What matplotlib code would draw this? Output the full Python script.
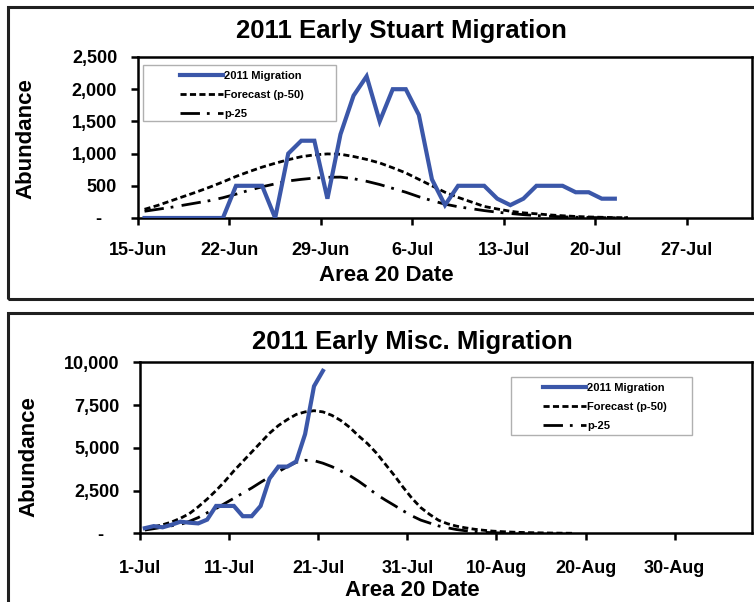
import pandas as pd
import matplotlib
matplotlib.use('Agg')
import matplotlib.pyplot as plt
import matplotlib.dates as mdates
from matplotlib.ticker import FuncFormatter
from matplotlib.patches import Rectangle

# ---- Early Stuart (daily, from 15-Jun) ----
stuart_migration = [0, 0, 0, 0, 0, 0, 0, 500, 500, 500, 0, 1000, 1200, 1200, 300,
                    1300, 1900, 2200, 1500, 2000, 2000, 1600, 600, 200, 500, 500, 500,
                    300, 200, 300, 500, 500, 500, 400, 400, 300, 300]
stuart_p50 = [135, 195, 265, 335, 405, 480, 560, 645, 720, 790, 850, 905, 952, 980,
              995, 990, 955, 910, 855, 780, 700, 600, 500, 400, 320, 250, 180, 140,
              105, 80, 65, 48, 35, 24, 16, 11, 7, 4]
stuart_p25 = [105, 135, 165, 200, 235, 270, 315, 370, 430, 485, 530, 575, 600, 620,
              632, 635, 610, 570, 520, 460, 400, 330, 270, 215, 175, 145, 115, 90,
              70, 52, 38, 27, 18, 12, 8, 5, 3, 2]
stuart_ticks = ['2011-06-15', '2011-06-22', '2011-06-29', '2011-07-06',
                '2011-07-13', '2011-07-20', '2011-07-27']

# ---- Early Misc (daily, from 1-Jul) ----
misc_migration = [300, 420, 350, 500, 680, 620, 580, 800, 1600, 1600, 1600, 1000,
                  1000, 1600, 3200, 3900, 3900, 4200, 5800, 8600, 9500]
misc_p50 = [280, 380, 500, 660, 880, 1150, 1550, 2000, 2500, 3050, 3650, 4200, 4750,
            5300, 5850, 6300, 6650, 6950, 7100, 7170, 7100, 6900, 6600, 6200, 5700,
            5250, 4700, 4050, 3400, 2700, 2050, 1500, 1100, 760, 560, 420, 320, 240,
            180, 130, 100, 75, 55, 40, 30, 20, 12, 6, 2]
misc_p25 = [190, 270, 360, 440, 520, 700, 920, 1200, 1450, 1750, 2050, 2350, 2650,
            2980, 3300, 3600, 3900, 4150, 4270, 4250, 4100, 3900, 3650, 3380, 3050,
            2680, 2280, 1950, 1640, 1320, 1020, 770, 600, 430, 320, 220, 150, 100,
            60, 35, 20]
misc_ticks = ['2011-07-01', '2011-07-11', '2011-07-21', '2011-07-31',
              '2011-08-10', '2011-08-20', '2011-08-30']

plt.rcParams['font.family'] = ['Liberation Sans', 'DejaVu Sans']
plt.rcParams['font.weight'] = 'bold'

BLUE = '#3B57A9'
W, H = 754, 602

fig = plt.figure(figsize=(7.54, 6.02), dpi=100)


def px(x0, y0, x1, y1):
    # pixel box (from top-left) -> figure fraction rect
    return [x0 / W, 1 - y1 / H, (x1 - x0) / W, (y1 - y0) / H]


def yfmt(v, pos):
    return '-   ' if v == 0 else f'{v:,.0f}'


def draw(ax, start, mig, p50, p25, ticks, xmax, ymax, ystep, leg_box, leg_anchor, tickpad):
    t0 = pd.Timestamp(start) + pd.Timedelta(hours=12)
    ax.plot(pd.date_range(t0, periods=len(mig), freq='D'), mig, color=BLUE, lw=3,
            solid_joinstyle='miter', label='2011 Migration', zorder=3)
    ax.plot(pd.date_range(t0, periods=len(p50), freq='D'), p50, color='black', lw=2,
            dashes=(2.2, 1.2), label='Forecast (p-50)', zorder=2)
    ax.plot(pd.date_range(t0, periods=len(p25), freq='D'), p25, color='black', lw=2,
            dashes=(7, 2.5, 1, 3), label='p-25', zorder=2)

    ax.set_xlim(pd.Timestamp(start), pd.Timestamp(start) + pd.Timedelta(days=xmax))
    ax.set_ylim(0, ymax)
    ax.set_yticks(range(0, ymax + 1, ystep))
    ax.yaxis.set_major_formatter(FuncFormatter(yfmt))
    ax.set_xticks(pd.to_datetime(ticks))
    ax.xaxis.set_major_formatter(FuncFormatter(
        lambda v, pos: mdates.num2date(v).strftime('%-d-%b')))
    ax.tick_params(axis='both', labelsize=13, width=1.8, length=5, direction='out')
    ax.tick_params(axis='y', pad=10)
    ax.tick_params(axis='x', pad=tickpad)
    for s in ax.spines.values():
        s.set_linewidth(1.8)

    ax.add_patch(Rectangle(leg_box[:2], leg_box[2], leg_box[3], transform=ax.transAxes,
                           facecolor='white', edgecolor='#b0b0b0', lw=1, zorder=4))
    leg = ax.legend(loc='upper left', bbox_to_anchor=leg_anchor, frameon=False,
                    fontsize=8, handlelength=3.9, handletextpad=0.1,
                    labelspacing=0.8, borderpad=0, borderaxespad=0)
    leg.set_zorder(5)
    for t in leg.get_texts():
        t.set_fontweight('bold')


ax1 = fig.add_axes(px(138, 57, 752, 218))
draw(ax1, '2011-06-15', stuart_migration, stuart_p50, stuart_p25, stuart_ticks,
     47, 2500, 500, (0.008, 0.6025, 0.315, 0.348), (0.068, 0.914), 12)

ax2 = fig.add_axes(px(140.4, 362.3, 752, 533.3))
draw(ax2, '2011-07-01', misc_migration, misc_p50, misc_p25, misc_ticks,
     68.7, 10000, 2500, (0.606, 0.575, 0.296, 0.337), (0.658, 0.877), 14)

# titles and axis labels
fig.text(401 / W, 1 - 31 / H, '2011 Early Stuart Migration', fontsize=18.5,
         ha='center', va='center', fontweight='bold')
fig.text(386 / W, 1 - 275 / H, 'Area 20 Date', fontsize=16, ha='center',
         va='center', fontweight='bold')
fig.text(26 / W, 1 - 139 / H, 'Abundance', fontsize=16, rotation=90,
         ha='center', va='center', fontweight='bold')

fig.text(412 / W, 1 - 342 / H, '2011 Early Misc. Migration', fontsize=18.5,
         ha='center', va='center', fontweight='bold')
fig.text(412 / W, 1 - 591 / H, 'Area 20 Date', fontsize=16, ha='center',
         va='center', fontweight='bold')
fig.text(29 / W, 1 - 457 / H, 'Abundance', fontsize=16, rotation=90,
         ha='center', va='center', fontweight='bold')

# panel borders
fig.patches.append(Rectangle((8 / W, 1 - 299 / H), 760 / W, 292 / H,
                             transform=fig.transFigure, fill=False,
                             edgecolor='#202020', lw=2.2))
fig.patches.append(Rectangle((8 / W, -0.02), 760 / W, 1 - 313 / H + 0.02,
                             transform=fig.transFigure, fill=False,
                             edgecolor='#202020', lw=2.2))

fig.savefig('out.png', dpi=100)
